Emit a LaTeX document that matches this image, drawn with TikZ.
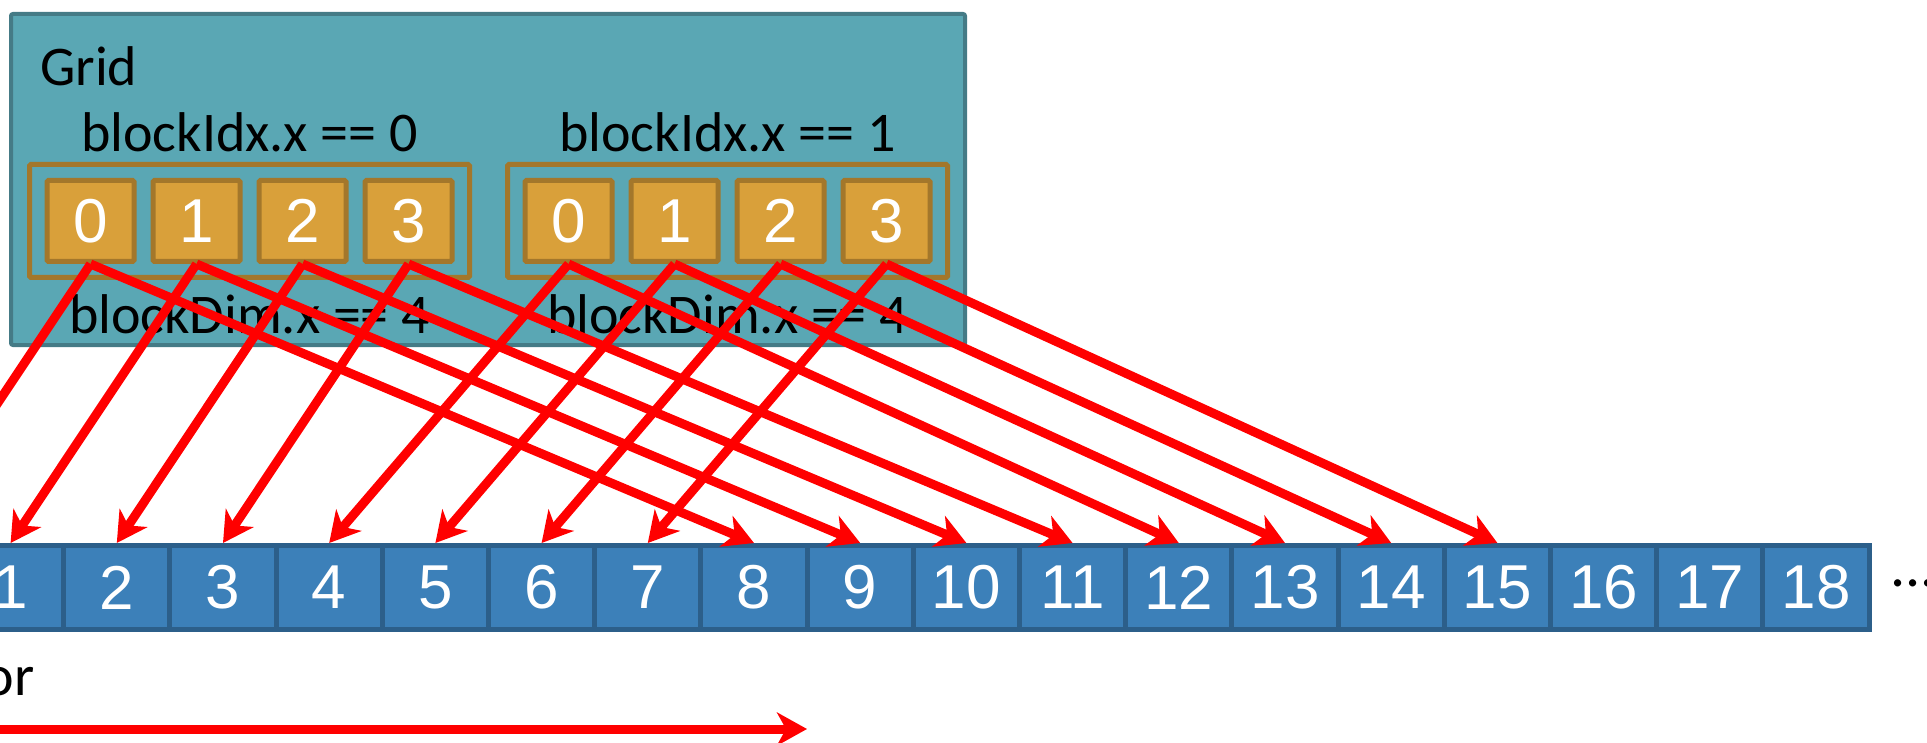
\documentclass[tikz,border=0pt]{standalone}
\usepackage{fontspec}
\setmainfont{Carlito}
\newfontfamily\digitfont{Liberation Sans}
\usetikzlibrary{arrows.meta}
\definecolor{gridfill}{HTML}{5AA7B4}
\definecolor{griddraw}{HTML}{457B86}
\definecolor{thrfill}{HTML}{D9A03A}
\definecolor{thrdraw}{HTML}{A3772B}
\definecolor{cellfill}{HTML}{3C80B9}
\definecolor{celldraw}{HTML}{2C5F8A}
\definecolor{arrowred}{HTML}{FF0000}
\begin{document}
\begin{tikzpicture}[x=1pt,y=-1pt,
  gridbox/.style={draw=griddraw, fill=gridfill, line width=4pt, rounded corners=2pt, inner sep=0pt},
  blockbox/.style={draw=thrdraw, line width=5pt, rounded corners=1.5pt, inner sep=0pt},
  thrbox/.style={draw=thrdraw, fill=thrfill, line width=5pt, minimum width=87pt, minimum height=81pt, inner sep=0pt, rounded corners=1.5pt, text=white, font=\digitfont\fontsize{62}{62}\selectfont},
  cellbox/.style={draw=celldraw, fill=cellfill, line width=5pt, minimum width=106.2pt, minimum height=84pt, inner sep=0pt, text=white, font=\digitfont\fontsize{62}{62}\selectfont},
  lbl/.style={font=\fontsize{56}{60}\selectfont, inner sep=0pt},
  link/.style={draw=arrowred, line width=9pt, -{Stealth[length=30pt,width=33pt,inset=9pt]}}
]
\useasboundingbox (0,0) rectangle (1927,743);
\clip (0,0) rectangle (1927,743);
% grid
\node[gridbox, minimum width=954pt, minimum height=331pt] (grid) at (488,179.5) {};
\node[blockbox, minimum width=440pt, minimum height=113pt] (blk0) at (249.5,221) {};
\node[blockbox, minimum width=440pt, minimum height=113pt] (blk1) at (727.5,221) {};
\node[lbl, anchor=base west] (gridlbl) at (40,86) {Grid};
\node[lbl, anchor=base] (bi0) at (249.5,152) {blockIdx.x == 0};
\node[lbl, anchor=base] (bi1) at (727.5,152) {blockIdx.x == 1};
\node[lbl, anchor=base] (bd0) at (249.5,334) {blockDim.x == 4};
\node[lbl, anchor=base] (bd1) at (727.5,334) {blockDim.x == 4};
% threads
\foreach \b in {0,1}{
  \foreach \j in {0,...,3}{
    \pgfmathtruncatemacro\i{4*\b+\j}
    \node[thrbox] (t\i) at ({249.5+478*\b+(\j-1.5)*106},221) {\j};
  }
}
% memory cells
\foreach \k in {1,...,18}{
  \node[cellbox] (c\k) at ({10.6+(\k-1)*106.2},587.5) {\k};
}
\coordinate (c0) at (-95.6,543);
\node[lbl, anchor=base west, font=\fontsize{60}{60}\selectfont] (dots) at (1890,586) {...};
\node[lbl, anchor=base east, font=\fontsize{58}{60}\selectfont] (orlbl) at (35,695) {or};
% arrows
\draw[link] (t0.south) -- (c0);
\foreach \i in {1,...,7}{
  \draw[link] (t\i.south) -- (c\i.north);
}
\foreach \i in {0,...,7}{
  \pgfmathtruncatemacro\k{\i+8}
  \draw[link] (t\i.south) -- (c\k.north);
}
\coordinate (ostart) at (-20,729);
\coordinate (oend) at (807,729);
\draw[link] (ostart) -- (oend);
\end{tikzpicture}
\end{document}
